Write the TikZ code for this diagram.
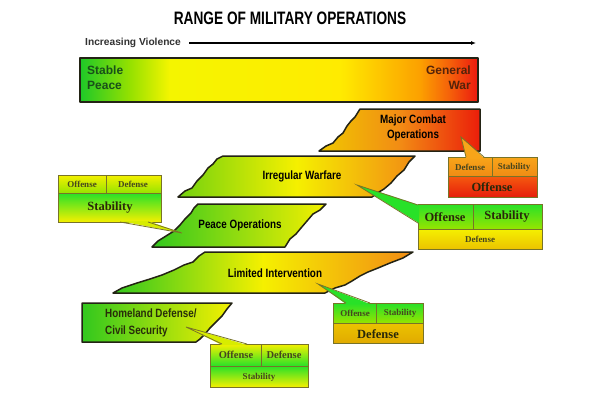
\documentclass[tikz,border=0pt]{standalone}
\usepackage{fontspec}
\setmainfont{Liberation Serif}
\newfontfamily\titlefont[FakeStretch=0.76]{Liberation Sans}
\newfontfamily\bannerfont[FakeStretch=0.82]{Liberation Sans}
\newfontfamily\plainsans{Liberation Sans}
\usetikzlibrary{arrows.meta}
\definecolor{vG}{RGB}{30,200,40}
\definecolor{vYG}{RGB}{150,225,0}
\definecolor{vY}{RGB}{245,245,0}
\definecolor{vYb}{RGB}{255,235,0}
\definecolor{vO}{RGB}{252,160,0}
\definecolor{vOb}{RGB}{245,95,10}
\definecolor{vR}{RGB}{235,25,15}
\definecolor{bGreen}{RGB}{50,200,30}
\definecolor{bLGreen}{RGB}{115,210,15}
\definecolor{bYellow}{RGB}{245,240,0}
\definecolor{bYO}{RGB}{240,200,0}
\definecolor{bOrange}{RGB}{242,140,20}
\definecolor{bRed}{RGB}{235,30,10}
\definecolor{outl}{RGB}{35,35,20}
\definecolor{boxl}{RGB}{120,115,40}
\definecolor{cgreen}{RGB}{40,225,40}
\definecolor{cygreen}{RGB}{150,228,0}
\definecolor{cyellow}{RGB}{245,240,0}
\definecolor{cgold}{RGB}{235,195,0}
\definecolor{cgoldb}{RGB}{225,170,0}
\definecolor{corange}{RGB}{248,165,25}
\definecolor{corangeb}{RGB}{240,140,20}
\definecolor{cred}{RGB}{245,90,15}
\definecolor{credb}{RGB}{230,30,10}
\definecolor{ctext}{RGB}{40,40,10}
\definecolor{csmall}{RGB}{70,70,30}
\pgfdeclarehorizontalshading{violence}{100bp}{color(0bp)=(vG); color(25bp)=(vG); color(31.3bp)=(vYG); color(36.3bp)=(vY); color(57.7bp)=(vYb); color(67.7bp)=(vO); color(71.5bp)=(vOb); color(75bp)=(vR); color(100bp)=(vR)}
\tikzset{
  banner/.style={draw=outl, line width=1.5pt, line join=round},
  boxline/.style={draw=boxl, line width=0.8pt},
  btext/.style={font=\bannerfont\bfseries\fontsize{12}{14}\selectfont, text=black, align=center, inner sep=0pt},
  bigc/.style={font=\bfseries\fontsize{12.5}{14}\selectfont, text=ctext, inner sep=0pt},
  smallc/.style={font=\bfseries\fontsize{9}{10}\selectfont, text=csmall, inner sep=0pt},
}
\begin{document}
\begin{tikzpicture}[x=1pt,y=-1pt]
\useasboundingbox (0,0) rectangle (600,400);
\fill[white] (0,0) rectangle (600,400);
% title
\node[font=\titlefont\bfseries\fontsize{18}{20}\selectfont, inner sep=0pt] (title) at (290,18) {RANGE OF MILITARY OPERATIONS};
\node[font=\plainsans\bfseries\fontsize{10.2}{12}\selectfont, text={rgb,255:red,50;green,50;blue,50}, anchor=west, inner sep=0pt] (incr) at (85,43) {Increasing Violence};
\coordinate (arrowend) at (476,43);
\draw[line width=1.1pt, -{Latex[length=5pt,width=4pt]}] ([xshift=8pt]incr.east) -- (arrowend);
% top bar
\draw[banner, shading=violence] (80,58) rectangle (478,102);
\node[font=\plainsans\bfseries\fontsize{12}{15}\selectfont, text={rgb,255:red,25;green,80;blue,25}, align=left, anchor=north west, inner sep=0pt] (peace) at (87,66) {Stable\\Peace};
\node[font=\plainsans\bfseries\fontsize{12}{15}\selectfont, text={rgb,255:red,85;green,35;blue,10}, align=right, anchor=north east, inner sep=0pt] (war) at (471,66) {General\\War};
% banners
\draw[banner, left color=bYO, right color=bRed, middle color=bOrange] (360,109) -- (480,109) -- (480,151) -- (319,151) -- (326,146) -- (333,143) -- (338,137) -- (343,133) -- (347,126) -- (351,121) -- (355,117) -- cycle;
\node[btext] (mco) at (413,128) {Major Combat\\[1pt]Operations};
\draw[banner, left color=bLGreen, right color=bOrange, middle color=bYellow] (223,156) -- (415,156) -- (409,162) -- (404,170) -- (397,176) -- (391,183) -- (384,189) -- (379,192) -- (372,197) -- (178,197) -- (185,191) -- (192,188) -- (197,181) -- (203,175) -- (208,168) -- (213,164) -- (217,159) -- cycle;
\node[btext] (iw) at (302,176) {Irregular Warfare};
\draw[banner, left color=bGreen, right color=bYellow] (198,204) -- (326,204) -- (320,210) -- (313,214) -- (307,221) -- (301,228) -- (296,234) -- (290,239) -- (285,247) -- (152,247) -- (158,241) -- (166,236) -- (174,231) -- (180,225) -- (185,219) -- (191,213) -- (194,208) -- cycle;
\node[btext] (po) at (240,225) {Peace Operations};
\draw[banner, left color=bGreen, right color=bOrange, middle color=bYellow] (205,252) -- (413,252) -- (403,258) -- (390,263) -- (378,268) -- (368,272) -- (360,276) -- (352,281) -- (345,285) -- (335,288) -- (325,293) -- (113,293) -- (122,288) -- (137,283) -- (150,279) -- (162,275) -- (174,270) -- (184,265) -- (193,262) -- (199,256) -- cycle;
\node[btext] (li) at (275,273) {Limited Intervention};
\draw[banner, left color=bGreen, right color=bYellow] (82,303) -- (232,303) -- (227,309) -- (222,316) -- (216,322) -- (210,328) -- (205,334) -- (200,339) -- (196,342) -- (82,342) -- cycle;
\node[btext, align=left, anchor=north west, text={rgb,255:red,40;green,45;blue,10}] (hd) at (105,309) {Homeland Defense/\\[3pt]Civil Security};
% ---- callout: Major Combat
\shade[top color=corange, bottom color=corangeb] (448,157) rectangle (537,176);
\shade[top color=cred, bottom color=credb] (448,176) rectangle (537,197);
\draw[boxline] (448,157) rectangle (537,197) (448,176) -- (537,176) (492,157) -- (492,176);
\coordinate (tipA) at (461,137);
\fill[corange] (466,158) -- (tipA) -- (484,158) -- cycle;
\draw[boxline] (466,157) -- (tipA) -- (484,157);
\node[smallc] (mA1) at (470,167) {Defense};
\node[smallc] (mA2) at (514,167) {Stability};
\node[bigc] (mA3) at (492,187) {Offense};
% ---- callout: Irregular Warfare
\shade[top color=cgreen, bottom color=cygreen] (418,204) rectangle (542,229);
\shade[top color=cyellow, bottom color=cgold] (418,229) rectangle (542,249);
\draw[boxline] (418,204) rectangle (542,249) (418,229) -- (542,229) (473,204) -- (473,229);
\coordinate (tipB) at (357,185);
\fill[cgreen] (419,205) -- (tipB) -- (419,223) -- cycle;
\draw[boxline] (418,205) -- (tipB) -- (418,223);
\node[bigc] (mB1) at (445,217) {Offense};
\node[bigc] (mB2) at (507,217) {Stability};
\node[smallc] (mB3) at (480,239) {Defense};
% ---- callout: Peace Operations
\shade[top color=cyellow, bottom color=cygreen] (58,175) rectangle (161,193);
\shade[top color=cgreen, bottom color=cyellow] (58,193) rectangle (161,222);
\draw[boxline] (58,175) rectangle (161,222) (58,193) -- (161,193) (106,175) -- (106,193);
\coordinate (tipC) at (182,233);
\fill[cyellow!70!cygreen] (120,221) -- (tipC) -- (148,221) -- cycle;
\draw[boxline] (120,222) -- (tipC) -- (148,222);
\node[smallc] (mC1) at (82,184) {Offense};
\node[smallc] (mC2) at (133,184) {Defense};
\node[bigc] (mC3) at (110,208) {Stability};
% ---- callout: Limited Intervention
\shade[top color=cgreen, bottom color=cygreen] (333,303) rectangle (423,323);
\shade[top color=cgold, bottom color=cgoldb] (333,323) rectangle (423,343);
\draw[boxline] (333,303) rectangle (423,343) (333,323) -- (423,323) (376,303) -- (376,323);
\coordinate (tipD) at (318,284);
\fill[cgreen] (346,304) -- (tipD) -- (370,304) -- cycle;
\draw[boxline] (346,303) -- (tipD) -- (370,303);
\node[smallc] (mD1) at (355,313) {Offense};
\node[smallc] (mD2) at (400,313) {Stability};
\node[bigc] (mD3) at (378,334) {Defense};
% ---- callout: Homeland Defense
\shade[top color=cyellow, bottom color=cgreen] (210,344) rectangle (308,366);
\shade[top color=cgreen, bottom color=cyellow] (210,366) rectangle (308,387);
\draw[boxline] (210,344) rectangle (308,387) (210,366) -- (308,366) (261,344) -- (261,366);
\coordinate (tipE) at (186,327);
\fill[cyellow!70!cygreen] (222,345) -- (tipE) -- (247,345) -- cycle;
\draw[boxline] (222,344) -- (tipE) -- (247,344);
\node[smallc, font=\bfseries\fontsize{10.5}{12}\selectfont] (mE1) at (236,355) {Offense};
\node[smallc, font=\bfseries\fontsize{10.5}{12}\selectfont] (mE2) at (284,355) {Defense};
\node[smallc] (mE3) at (259,377) {Stability};
\end{tikzpicture}
\end{document}
